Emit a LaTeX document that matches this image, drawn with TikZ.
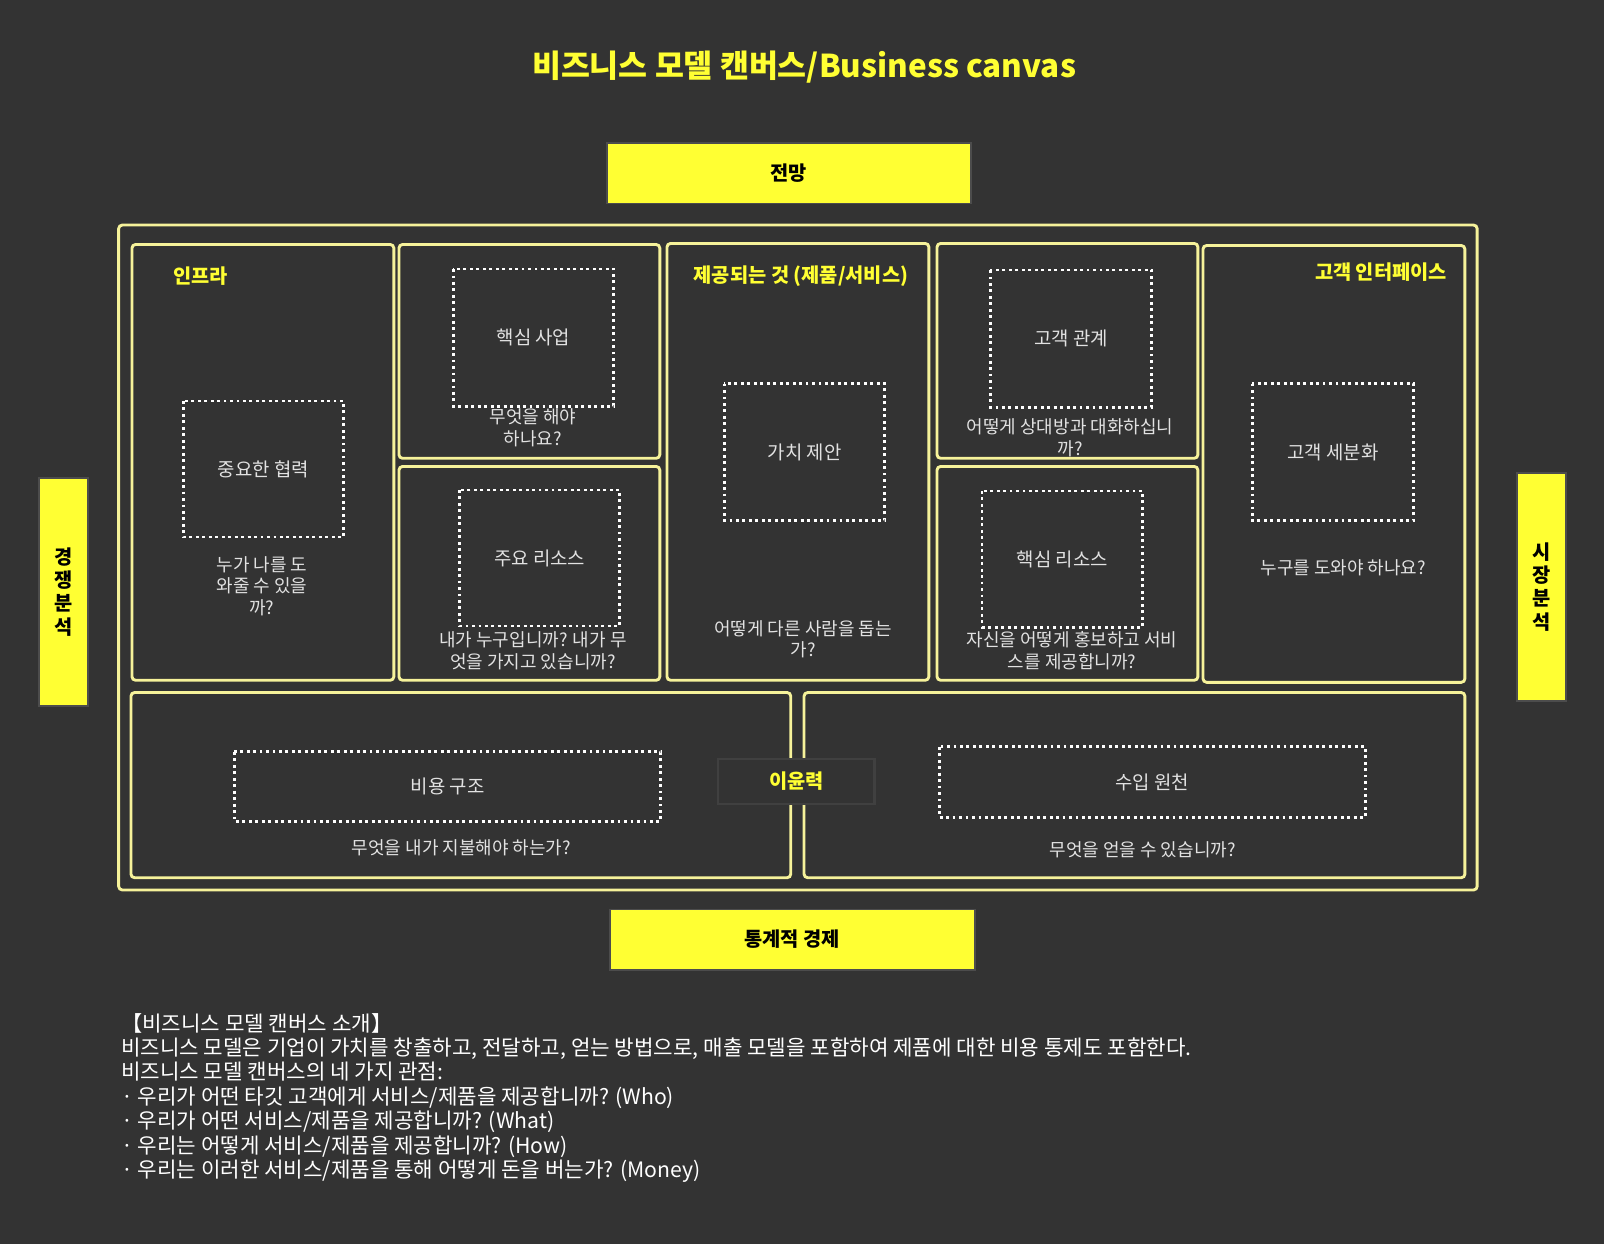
\documentclass[tikz,border=0pt]{standalone}
\usepackage{fontspec}
\setmainfont{Noto Sans CJK KR}
\usetikzlibrary{positioning}
\definecolor{bgdark}{HTML}{333333}
\definecolor{hiyel}{HTML}{FFFF33}
\definecolor{edgeyel}{HTML}{F6F29A}
\definecolor{txtgray}{HTML}{E2E2E2}
\tikzset{
  block/.style = {draw=edgeyel, line width=1.6pt, rounded corners=2pt},
  dotbox/.style = {draw=white, line width=1.6pt, dotted},
  ylabel/.style = {fill=hiyel, draw=black!70, line width=1pt, font=\bfseries\fontsize{11}{13}\selectfont, text=black},
  head/.style = {text=hiyel, font=\bfseries\fontsize{11}{13}\selectfont},
  note/.style = {text=txtgray, align=center, font=\fontsize{10}{12}\selectfont},
  inlabel/.style = {text=txtgray, font=\fontsize{10.5}{12}\selectfont}
}
\begin{document}
\begin{tikzpicture}[x=0.02cm, y=-0.02cm]
\fill[bgdark] (0,0) rectangle (1568,1216);
\useasboundingbox (0,0) rectangle (1568,1216);

\node (title) at (786,66) [text=hiyel, font=\bfseries\fontsize{17.5}{20}\selectfont] {비즈니스 모델 캔버스/Business canvas};

\draw[ylabel] (593,140) rectangle (949,199) node[midway] (vision) {전망};
\draw[ylabel] (596,889) rectangle (953,948) node[midway] (econ) {통계적 경제};
\draw[ylabel] (38,467) rectangle (86,690) node[midway, align=center] (comp) {경\\쟁\\분\\석};
\draw[ylabel] (1483,462) rectangle (1531,685) node[midway, align=center] (market) {시\\장\\분\\석};

% outer frame
\draw[block] (116,220) rectangle (1444,870);

% infrastructure
\draw[block] (129,239) rectangle (385,665);
\node[head] (infra) at (196,270) {인프라};
\draw[dotbox] (179,392) rectangle (336,525) node[midway, inlabel] (partner) {중요한 협력};
\node[note] (partnerq) at (256,573) {누가 나를 도\\와줄 수 있을\\까?};

\draw[block] (390,239) rectangle (645,448);
\draw[dotbox] (443,263) rectangle (600,397) node[midway, inlabel] (activity) {핵심 사업};
\node[note] (activityq) at (521,418) {무엇을 해야\\하나요?};

\draw[block] (390,456) rectangle (645,665);
\draw[dotbox] (449,479) rectangle (606,612) node[midway, inlabel] (resource) {주요 리소스};
\node[note] (resourceq) at (521,636) {내가 누구입니까? 내가 무\\엇을 가지고 있습니까?};

% offer
\draw[block] (652,238) rectangle (908,665);
\node[head] (offer) at (783,270) {제공되는 것 (제품/서비스)};
\draw[dotbox] (708,375) rectangle (865,509) node[midway, inlabel] (value) {가치 제안};
\node[note] (valueq) at (785,625) {어떻게 다른 사람을 돕는\\가?};

% customer interface
\draw[block] (916,238) rectangle (1171,448);
\draw[dotbox] (968,264) rectangle (1126,398) node[midway, inlabel] (relation) {고객 관계};
\node[note] (relationq) at (1046,428) {어떻게 상대방과 대화하십니\\까?};

\draw[block] (916,456) rectangle (1171,665);
\draw[dotbox] (960,480) rectangle (1117,613) node[midway, inlabel] (channel) {핵심 리소스};
\node[note] (channelq) at (1048,636) {자신을 어떻게 홍보하고 서비\\스를 제공합니까?};

\draw[block] (1176,240) rectangle (1432,667);
\node[head] (iface) at (1350,266) {고객 인터페이스};
\draw[dotbox] (1224,375) rectangle (1382,509) node[midway, inlabel] (segment) {고객 세분화};
\node[note] (segmentq) at (1313,555) {누구를 도와야 하나요?};

% finance
\draw[block] (128,677) rectangle (773,858);
\draw[dotbox] (229,735) rectangle (646,803) node[midway, inlabel] (cost) {비용 구조};
\node[note] (costq) at (451,829) {무엇을 내가 지불해야 하는가?};

\draw[block] (786,677) rectangle (1432,858);
\draw[dotbox] (918,730) rectangle (1335,799) node[midway, inlabel] (revenue) {수입 원천};
\node[note] (revenueq) at (1117,831) {무엇을 얻을 수 있습니까?};

\draw[fill=bgdark, draw=black!75, line width=1.4pt] (702,742) rectangle (855,786) node[midway, head] (profit) {이윤력};

% intro
\node[anchor=north west, text=white, align=left, font=\fontsize{11.8}{13.6}\selectfont, inner sep=0pt] (intro) at (118,990) {【비즈니스 모델 캔버스 소개】\\비즈니스 모델은 기업이 가치를 창출하고, 전달하고, 얻는 방법으로, 매출 모델을 포함하여 제품에 대한 비용 통제도 포함한다.\\비즈니스 모델 캔버스의 네 가지 관점:\\· 우리가 어떤 타깃 고객에게 서비스/제품을 제공합니까? (Who)\\· 우리가 어떤 서비스/제품을 제공합니까? (What)\\· 우리는 어떻게 서비스/제품을 제공합니까? (How)\\· 우리는 이러한 서비스/제품을 통해 어떻게 돈을 버는가? (Money)};
\end{tikzpicture}
\end{document}
